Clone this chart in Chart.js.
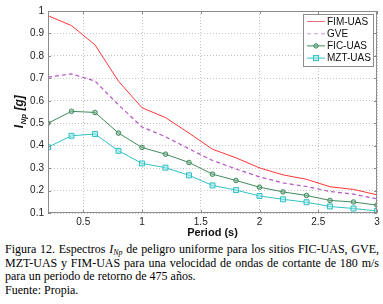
<!DOCTYPE html>
<html lang="es">
<head>
<meta charset="UTF-8">
<title>Espectros INp</title>
<style>
  * { margin: 0; padding: 0; box-sizing: border-box; }
  body { background: #fff; width: 383px; height: 304px; overflow: hidden; position: relative; }
  #wrap { position: absolute; left: 0; top: 0; width: 383px; height: 240px; }
  #caption {
    position: absolute; left: 5px; top: 243px; width: 374px;
    font-family: "Liberation Serif", "Times New Roman", serif;
    font-size: 12px; line-height: 13.5px; color: #000;
  }
  #caption .j { text-align: justify; text-align-last: justify; }
  #caption sub { font-size: 8px; vertical-align: -2px; line-height: 0; }
</style>
<script src="https://cdn.jsdelivr.net/npm/chart.js"></script>
</head>
<body>
<div id="wrap"><canvas id="chart" width="383" height="240"></canvas></div>
<div id="caption">
  <div class="j">Figura 12. Espectros <i>I<sub>Np</sub></i> de peligro uniforme para los sitios FIC-UAS, GVE,</div>
  <div class="j">MZT-UAS y FIM-UAS para una velocidad de ondas de cortante de 180 m/s</div>
  <div>para un periodo de retorno de 475 años.</div>
  <div>Fuente: Propia.</div>
</div>

<script>
  // periods (s)
  const periods = [0.2, 0.4, 0.6, 0.8, 1.0, 1.2, 1.4, 1.6, 1.8, 2.0, 2.2, 2.4, 2.6, 2.8, 3.0];
  // INp [g] per site
  const fimUas = [0.979, 0.935, 0.849, 0.687, 0.569, 0.525, 0.456, 0.384, 0.346, 0.301, 0.270, 0.250, 0.217, 0.205, 0.181];
  const gve    = [0.705, 0.720, 0.688, 0.582, 0.483, 0.440, 0.386, 0.334, 0.296, 0.261, 0.234, 0.218, 0.196, 0.184, 0.163];
  const ficUas = [0.500, 0.553, 0.548, 0.456, 0.392, 0.362, 0.325, 0.273, 0.245, 0.215, 0.194, 0.178, 0.156, 0.149, 0.135];
  const mztUas = [0.393, 0.444, 0.452, 0.377, 0.321, 0.302, 0.268, 0.223, 0.202, 0.176, 0.161, 0.148, 0.129, 0.120, 0.109];
  const xTicks = [0.5, 1, 1.5, 2, 2.5, 3];

  const pts = arr => arr.map((v, i) => ({ x: periods[i], y: v }));
  const frameColor = "#8c8c8c";

  // frame, inward ticks, axis titles and legend box (MATLAB look)
  const decor = {
    id: "decor",
    afterDraw(chart) {
      const { ctx, chartArea: a, scales } = chart;
      ctx.save();
      ctx.strokeStyle = frameColor;
      ctx.lineWidth = 1;
      ctx.strokeRect(a.left + 0.5, a.top + 0.5, a.right - a.left - 1, a.bottom - a.top - 1);
      ctx.beginPath();
      scales.y.ticks.forEach(t => {
        const y = Math.round(scales.y.getPixelForValue(t.value)) + 0.5;
        ctx.moveTo(a.left, y); ctx.lineTo(a.left + 3, y);
        ctx.moveTo(a.right, y); ctx.lineTo(a.right - 3, y);
      });
      scales.x.ticks.forEach(t => {
        const x = Math.round(scales.x.getPixelForValue(t.value)) + 0.5;
        ctx.moveTo(x, a.bottom); ctx.lineTo(x, a.bottom - 3);
        ctx.moveTo(x, a.top); ctx.lineTo(x, a.top + 3);
      });
      ctx.stroke();

      // x title
      ctx.fillStyle = "#111";
      ctx.font = "bold 11px Arial, 'Liberation Sans', sans-serif";
      ctx.textAlign = "center";
      ctx.textBaseline = "middle";
      ctx.fillText("Period (s)", (a.left + a.right) / 2, 233);

      // y title: I_Np [g]
      ctx.translate(19, 112);
      ctx.rotate(-Math.PI / 2);
      const big = "italic bold 12px Arial, 'Liberation Sans', sans-serif";
      const small = "italic bold 8px Arial, 'Liberation Sans', sans-serif";
      ctx.font = big; const w1 = ctx.measureText("I").width;
      const w3 = ctx.measureText(" [g]").width;
      ctx.font = small; const w2 = ctx.measureText("Np").width;
      let x0 = -(w1 + w2 + w3) / 2;
      ctx.textAlign = "left";
      ctx.textBaseline = "alphabetic";
      ctx.font = big; ctx.fillText("I", x0, 4);
      ctx.font = small; ctx.fillText("Np", x0 + w1 + 0.5, 7);
      ctx.font = big; ctx.fillText(" [g]", x0 + w1 + w2 + 0.5, 4);
      ctx.restore();

      // legend
      ctx.save();
      const bx = 303.5, by = 14.5, bw = 70, bh = 52;
      ctx.fillStyle = "#fff";
      ctx.fillRect(bx, by, bw, bh);
      ctx.strokeStyle = frameColor;
      ctx.strokeRect(bx, by, bw, bh);
      ctx.font = "10px Arial, 'Liberation Sans', sans-serif";
      ctx.textBaseline = "middle";
      chart.data.datasets.forEach((ds, i) => {
        const y = 21.5 + i * 12.2;
        ctx.strokeStyle = ds.legendColor || ds.borderColor;
        ctx.lineWidth = 1;
        ctx.setLineDash(ds.borderDash || []);
        ctx.beginPath(); ctx.moveTo(307, y); ctx.lineTo(325, y); ctx.stroke();
        ctx.setLineDash([]);
        if (ds.pointRadius > 0) {
          ctx.fillStyle = ds.pointBackgroundColor;
          ctx.strokeStyle = ds.borderColor;
          if (ds.pointStyle === "rect") {
            ctx.fillRect(313.5, y - 2.5, 5, 5); ctx.strokeRect(313.5, y - 2.5, 5, 5);
          } else {
            ctx.beginPath(); ctx.arc(316, y, 2.2, 0, Math.PI * 2); ctx.fill(); ctx.stroke();
          }
        }
        ctx.fillStyle = "#111";
        ctx.fillText(ds.label, 327, y + 0.5);
      });
      ctx.restore();
    }
  };

  new Chart(document.getElementById("chart").getContext("2d"), {
    type: "line",
    data: {
      datasets: [
        { label: "FIM-UAS", data: pts(fimUas), borderColor: "#ff3535", legendColor: "#e8707a",
          borderWidth: 1, pointRadius: 0 },
        { label: "GVE", data: pts(gve), borderColor: "#b555c6", legendColor: "#d79be0",
          borderWidth: 1.2, borderDash: [4, 3], pointRadius: 0 },
        { label: "FIC-UAS", data: pts(ficUas), borderColor: "#3f8a5e", borderWidth: 1,
          pointRadius: 2.3, pointStyle: "circle", pointBackgroundColor: "rgba(120,180,140,0.5)",
          pointBorderColor: "#3f8a5e", pointBorderWidth: 1 },
        { label: "MZT-UAS", data: pts(mztUas), borderColor: "#2fc2c4", borderWidth: 1,
          pointRadius: 3.5, pointStyle: "rect", pointBackgroundColor: "rgba(160,230,230,0.6)",
          pointBorderColor: "#2fc2c4", pointBorderWidth: 1 }
      ]
    },
    options: {
      responsive: false,
      animation: false,
      events: [],
      layout: { padding: { left: 0, right: 6, top: 11, bottom: 0 } },
      plugins: { legend: { display: false }, tooltip: { enabled: false } },
      scales: {
        x: {
          type: "linear", min: 0.2, max: 3,
          afterBuildTicks: s => { s.ticks = xTicks.map(v => ({ value: v })); },
          afterFit: s => { s.height = 27; },
          grid: { color: "#c4c4c4", drawTicks: false },
          border: { display: false, dash: [1, 2] },
          ticks: { padding: 3, color: "#222", font: { size: 10, family: "Arial" }, maxRotation: 0,
                   callback: v => String(+v.toFixed(1)) }
        },
        y: {
          min: 0.1, max: 1,
          afterFit: s => { s.width = 48; },
          grid: { color: "#c4c4c4", drawTicks: false },
          border: { display: false, dash: [1, 2] },
          ticks: { stepSize: 0.1, padding: 4, color: "#222", font: { size: 10, family: "Arial" },
                   callback: v => String(+v.toFixed(1)) }
        }
      }
    },
    plugins: [decor]
  });
</script>
</body>
</html>
